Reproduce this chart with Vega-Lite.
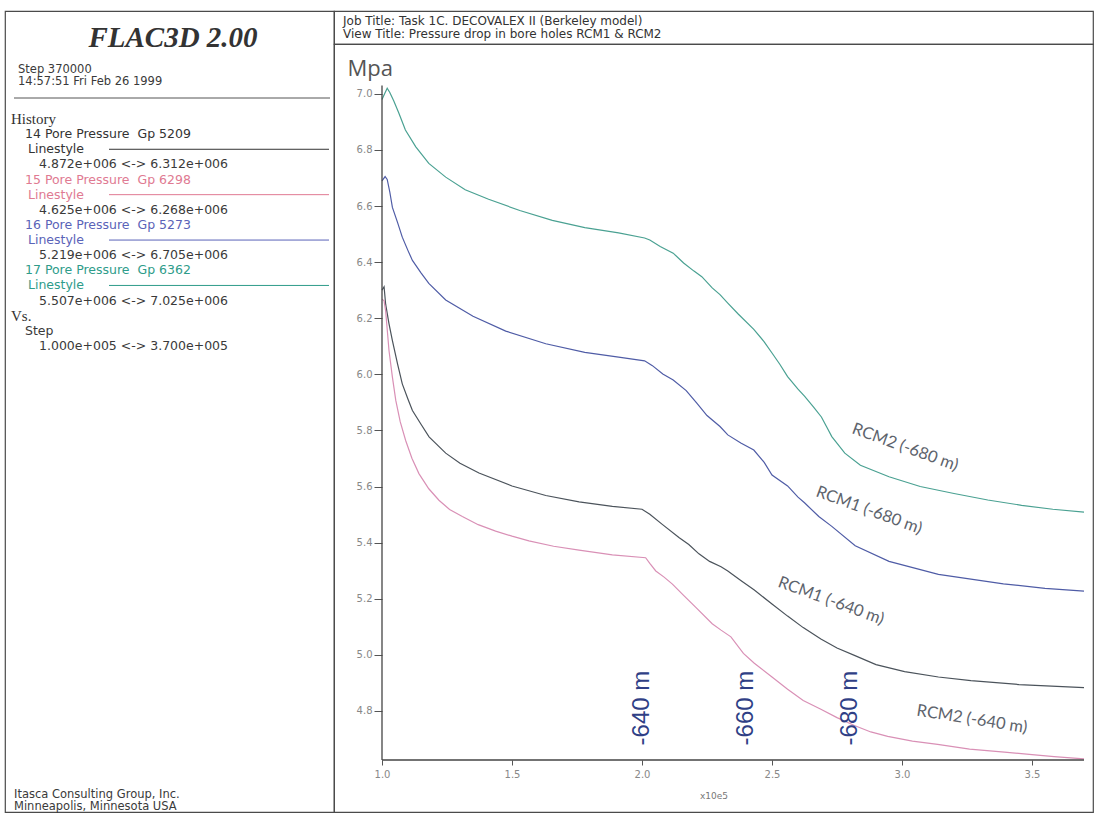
{
  "$schema": "https://vega.github.io/schema/vega-lite/v6.json",
  "background": "white",
  "padding": {"left": 4, "top": 10, "right": 4, "bottom": 2},
  "config": {
    "view": {"stroke": "#4a4a4a", "strokeWidth": 1.2},
    "concat": {"spacing": 0},
    "text": {"font": "DejaVu Sans"}
  },
  "resolve": {"scale": {"color": "independent"}},
  "spacing": 0,
  "bounds": "flush",
  "datasets": {
    "listing": [
      {"line": 0, "kind": "heading", "text": "History", "history": "none"},
      {"line": 1, "kind": "item", "text": "14 Pore Pressure\u00a0 Gp 5209", "history": "14"},
      {"line": 2, "kind": "linestyle", "text": "Linestyle", "history": "14"},
      {"line": 3, "kind": "range", "text": "4.872e+006 <-> 6.312e+006", "history": "none"},
      {"line": 4, "kind": "item", "text": "15 Pore Pressure\u00a0 Gp 6298", "history": "15"},
      {"line": 5, "kind": "linestyle", "text": "Linestyle", "history": "15"},
      {"line": 6, "kind": "range", "text": "4.625e+006 <-> 6.268e+006", "history": "none"},
      {"line": 7, "kind": "item", "text": "16 Pore Pressure\u00a0 Gp 5273", "history": "16"},
      {"line": 8, "kind": "linestyle", "text": "Linestyle", "history": "16"},
      {"line": 9, "kind": "range", "text": "5.219e+006 <-> 6.705e+006", "history": "none"},
      {"line": 10, "kind": "item", "text": "17 Pore Pressure\u00a0 Gp 6362", "history": "17"},
      {"line": 11, "kind": "linestyle", "text": "Linestyle", "history": "17"},
      {"line": 12, "kind": "range", "text": "5.507e+006 <-> 7.025e+006", "history": "none"},
      {"line": 13, "kind": "heading", "text": "Vs.", "history": "none"},
      {"line": 14, "kind": "item", "text": "Step", "history": "none"},
      {"line": 15, "kind": "range", "text": "1.000e+005 <-> 3.700e+005", "history": "none"}
    ],
    "curves": [
      {"history": "17", "step": 1.0, "mpa": 6.98}, {"history": "17", "step": 1.01, "mpa": 7.0}, {"history": "17", "step": 1.02, "mpa": 7.02}, {"history": "17", "step": 1.03, "mpa": 7.005}, {"history": "17", "step": 1.045, "mpa": 6.975}, {"history": "17", "step": 1.065, "mpa": 6.931}, {"history": "17", "step": 1.09, "mpa": 6.871}, {"history": "17", "step": 1.13, "mpa": 6.811}, {"history": "17", "step": 1.18, "mpa": 6.752}, {"history": "17", "step": 1.245, "mpa": 6.703}, {"history": "17", "step": 1.32, "mpa": 6.658}, {"history": "17", "step": 1.41, "mpa": 6.624}, {"history": "17", "step": 1.53, "mpa": 6.584}, {"history": "17", "step": 1.655, "mpa": 6.549}, {"history": "17", "step": 1.78, "mpa": 6.523}, {"history": "17", "step": 1.91, "mpa": 6.504}, {"history": "17", "step": 2.01, "mpa": 6.486}, {"history": "17", "step": 2.03, "mpa": 6.479}, {"history": "17", "step": 2.07, "mpa": 6.456}, {"history": "17", "step": 2.12, "mpa": 6.432}, {"history": "17", "step": 2.16, "mpa": 6.397}, {"history": "17", "step": 2.2, "mpa": 6.368}, {"history": "17", "step": 2.23, "mpa": 6.348}, {"history": "17", "step": 2.27, "mpa": 6.308}, {"history": "17", "step": 2.3, "mpa": 6.284}, {"history": "17", "step": 2.33, "mpa": 6.254}, {"history": "17", "step": 2.37, "mpa": 6.215}, {"history": "17", "step": 2.43, "mpa": 6.16}, {"history": "17", "step": 2.47, "mpa": 6.116}, {"history": "17", "step": 2.5, "mpa": 6.076}, {"history": "17", "step": 2.53, "mpa": 6.036}, {"history": "17", "step": 2.56, "mpa": 5.992}, {"history": "17", "step": 2.6, "mpa": 5.947}, {"history": "17", "step": 2.625, "mpa": 5.922}, {"history": "17", "step": 2.66, "mpa": 5.883}, {"history": "17", "step": 2.69, "mpa": 5.848}, {"history": "17", "step": 2.71, "mpa": 5.813}, {"history": "17", "step": 2.73, "mpa": 5.778}, {"history": "17", "step": 2.78, "mpa": 5.719}, {"history": "17", "step": 2.84, "mpa": 5.676}, {"history": "17", "step": 2.95, "mpa": 5.635}, {"history": "17", "step": 3.07, "mpa": 5.6}, {"history": "17", "step": 3.2, "mpa": 5.575}, {"history": "17", "step": 3.33, "mpa": 5.552}, {"history": "17", "step": 3.46, "mpa": 5.533}, {"history": "17", "step": 3.58, "mpa": 5.519}, {"history": "17", "step": 3.7, "mpa": 5.509},
      {"history": "16", "step": 1.0, "mpa": 6.69}, {"history": "16", "step": 1.012, "mpa": 6.705}, {"history": "16", "step": 1.02, "mpa": 6.695}, {"history": "16", "step": 1.03, "mpa": 6.65}, {"history": "16", "step": 1.04, "mpa": 6.595}, {"history": "16", "step": 1.06, "mpa": 6.541}, {"history": "16", "step": 1.078, "mpa": 6.489}, {"history": "16", "step": 1.1, "mpa": 6.441}, {"history": "16", "step": 1.117, "mpa": 6.406}, {"history": "16", "step": 1.15, "mpa": 6.362}, {"history": "16", "step": 1.18, "mpa": 6.324}, {"history": "16", "step": 1.245, "mpa": 6.265}, {"history": "16", "step": 1.35, "mpa": 6.207}, {"history": "16", "step": 1.476, "mpa": 6.154}, {"history": "16", "step": 1.63, "mpa": 6.109}, {"history": "16", "step": 1.78, "mpa": 6.078}, {"history": "16", "step": 1.91, "mpa": 6.061}, {"history": "16", "step": 2.01, "mpa": 6.048}, {"history": "16", "step": 2.04, "mpa": 6.031}, {"history": "16", "step": 2.08, "mpa": 6.001}, {"history": "16", "step": 2.12, "mpa": 5.98}, {"history": "16", "step": 2.17, "mpa": 5.942}, {"history": "16", "step": 2.21, "mpa": 5.898}, {"history": "16", "step": 2.25, "mpa": 5.853}, {"history": "16", "step": 2.3, "mpa": 5.814}, {"history": "16", "step": 2.33, "mpa": 5.784}, {"history": "16", "step": 2.38, "mpa": 5.755}, {"history": "16", "step": 2.43, "mpa": 5.73}, {"history": "16", "step": 2.47, "mpa": 5.686}, {"history": "16", "step": 2.5, "mpa": 5.641}, {"history": "16", "step": 2.56, "mpa": 5.602}, {"history": "16", "step": 2.6, "mpa": 5.562}, {"history": "16", "step": 2.625, "mpa": 5.542}, {"history": "16", "step": 2.68, "mpa": 5.493}, {"history": "16", "step": 2.73, "mpa": 5.458}, {"history": "16", "step": 2.82, "mpa": 5.389}, {"history": "16", "step": 2.95, "mpa": 5.333}, {"history": "16", "step": 3.14, "mpa": 5.287}, {"history": "16", "step": 3.39, "mpa": 5.253}, {"history": "16", "step": 3.55, "mpa": 5.237}, {"history": "16", "step": 3.7, "mpa": 5.227},
      {"history": "14", "step": 1.0, "mpa": 6.3}, {"history": "14", "step": 1.008, "mpa": 6.312}, {"history": "14", "step": 1.014, "mpa": 6.25}, {"history": "14", "step": 1.027, "mpa": 6.18}, {"history": "14", "step": 1.04, "mpa": 6.12}, {"history": "14", "step": 1.06, "mpa": 6.036}, {"history": "14", "step": 1.078, "mpa": 5.966}, {"history": "14", "step": 1.1, "mpa": 5.911}, {"history": "14", "step": 1.117, "mpa": 5.871}, {"history": "14", "step": 1.15, "mpa": 5.822}, {"history": "14", "step": 1.181, "mpa": 5.777}, {"history": "14", "step": 1.245, "mpa": 5.719}, {"history": "14", "step": 1.3, "mpa": 5.683}, {"history": "14", "step": 1.373, "mpa": 5.648}, {"history": "14", "step": 1.5, "mpa": 5.602}, {"history": "14", "step": 1.63, "mpa": 5.568}, {"history": "14", "step": 1.758, "mpa": 5.545}, {"history": "14", "step": 1.886, "mpa": 5.529}, {"history": "14", "step": 2.0, "mpa": 5.519}, {"history": "14", "step": 2.03, "mpa": 5.501}, {"history": "14", "step": 2.078, "mpa": 5.465}, {"history": "14", "step": 2.142, "mpa": 5.418}, {"history": "14", "step": 2.18, "mpa": 5.393}, {"history": "14", "step": 2.219, "mpa": 5.36}, {"history": "14", "step": 2.26, "mpa": 5.333}, {"history": "14", "step": 2.304, "mpa": 5.314}, {"history": "14", "step": 2.33, "mpa": 5.299}, {"history": "14", "step": 2.38, "mpa": 5.265}, {"history": "14", "step": 2.432, "mpa": 5.231}, {"history": "14", "step": 2.5, "mpa": 5.181}, {"history": "14", "step": 2.56, "mpa": 5.138}, {"history": "14", "step": 2.62, "mpa": 5.097}, {"history": "14", "step": 2.688, "mpa": 5.056}, {"history": "14", "step": 2.75, "mpa": 5.024}, {"history": "14", "step": 2.817, "mpa": 4.998}, {"history": "14", "step": 2.9, "mpa": 4.965}, {"history": "14", "step": 3.01, "mpa": 4.94}, {"history": "14", "step": 3.14, "mpa": 4.921}, {"history": "14", "step": 3.265, "mpa": 4.908}, {"history": "14", "step": 3.45, "mpa": 4.894}, {"history": "14", "step": 3.7, "mpa": 4.883},
      {"history": "15", "step": 1.0, "mpa": 6.268}, {"history": "15", "step": 1.008, "mpa": 6.262}, {"history": "15", "step": 1.014, "mpa": 6.226}, {"history": "15", "step": 1.027, "mpa": 6.084}, {"history": "15", "step": 1.04, "mpa": 5.99}, {"history": "15", "step": 1.053, "mpa": 5.907}, {"history": "15", "step": 1.07, "mpa": 5.831}, {"history": "15", "step": 1.091, "mpa": 5.764}, {"history": "15", "step": 1.115, "mpa": 5.701}, {"history": "15", "step": 1.142, "mpa": 5.646}, {"history": "15", "step": 1.18, "mpa": 5.592}, {"history": "15", "step": 1.219, "mpa": 5.551}, {"history": "15", "step": 1.26, "mpa": 5.518}, {"history": "15", "step": 1.309, "mpa": 5.493}, {"history": "15", "step": 1.37, "mpa": 5.464}, {"history": "15", "step": 1.437, "mpa": 5.441}, {"history": "15", "step": 1.5, "mpa": 5.423}, {"history": "15", "step": 1.565, "mpa": 5.406}, {"history": "15", "step": 1.66, "mpa": 5.387}, {"history": "15", "step": 1.758, "mpa": 5.373}, {"history": "15", "step": 1.886, "mpa": 5.356}, {"history": "15", "step": 2.014, "mpa": 5.346}, {"history": "15", "step": 2.03, "mpa": 5.326}, {"history": "15", "step": 2.053, "mpa": 5.299}, {"history": "15", "step": 2.085, "mpa": 5.277}, {"history": "15", "step": 2.117, "mpa": 5.252}, {"history": "15", "step": 2.16, "mpa": 5.212}, {"history": "15", "step": 2.206, "mpa": 5.17}, {"history": "15", "step": 2.27, "mpa": 5.111}, {"history": "15", "step": 2.304, "mpa": 5.088}, {"history": "15", "step": 2.342, "mpa": 5.064}, {"history": "15", "step": 2.39, "mpa": 5.005}, {"history": "15", "step": 2.432, "mpa": 4.97}, {"history": "15", "step": 2.5, "mpa": 4.921}, {"history": "15", "step": 2.56, "mpa": 4.877}, {"history": "15", "step": 2.62, "mpa": 4.837}, {"history": "15", "step": 2.688, "mpa": 4.806}, {"history": "15", "step": 2.75, "mpa": 4.776}, {"history": "15", "step": 2.817, "mpa": 4.748}, {"history": "15", "step": 2.88, "mpa": 4.725}, {"history": "15", "step": 2.945, "mpa": 4.709}, {"history": "15", "step": 3.04, "mpa": 4.692}, {"history": "15", "step": 3.137, "mpa": 4.681}, {"history": "15", "step": 3.26, "mpa": 4.664}, {"history": "15", "step": 3.394, "mpa": 4.653}, {"history": "15", "step": 3.5, "mpa": 4.644}, {"history": "15", "step": 3.585, "mpa": 4.637}, {"history": "15", "step": 3.7, "mpa": 4.629}
    ],
    "depths": [
      {"label": "-640 m", "step": 2.0},
      {"label": "-660 m", "step": 2.4},
      {"label": "-680 m", "step": 2.8}
    ],
    "curveLabels": [
      {"label": "RCM2 (-680 m)", "step": 3.012, "mpa": 5.74, "tilt": "steep"},
      {"label": "RCM1 (-680 m)", "step": 2.873, "mpa": 5.515, "tilt": "steep"},
      {"label": "RCM1 (-640 m)", "step": 2.727, "mpa": 5.192, "tilt": "steep"},
      {"label": "RCM2 (-640 m)", "step": 3.269, "mpa": 4.77, "tilt": "flat"}
    ]
  },
  "hconcat": [
    {
      "width": 329,
      "height": 801,
      "data": {"name": "listing"},
      "layer": [
        {
          "data": {"values": [{"text": "FLAC3D 2.00"}]},
          "mark": {"type": "text", "font": "Liberation Serif", "fontStyle": "italic", "fontWeight": "bold", "fontSize": 29, "align": "center", "baseline": "middle", "color": "#333333"},
          "encoding": {
            "x": {"datum": 168, "type": "quantitative", "scale": {"domain": [0, 329], "nice": false, "zero": false}, "axis": null},
            "y": {"datum": -5.353, "type": "quantitative", "scale": {"domain": [-7.138, 45.8], "reverse": true, "nice": false, "zero": false}, "axis": null},
            "text": {"field": "text"}
          }
        },
        {
          "data": {"values": [{"text": ["Step 370000", "14:57:51 Fri Feb 26 1999"]}]},
          "mark": {"type": "text", "fontSize": 11.5, "lineHeight": 12, "align": "left", "baseline": "top", "color": "#3a3a3a"},
          "encoding": {
            "x": {"datum": 13, "type": "quantitative", "axis": null},
            "y": {"datum": -3.655, "type": "quantitative", "axis": null},
            "text": {"field": "text"}
          }
        },
        {
          "data": {"values": [{}]},
          "mark": {"type": "rule", "color": "#555555", "strokeWidth": 1},
          "encoding": {
            "x": {"datum": 9, "type": "quantitative", "axis": null},
            "x2": {"datum": 325},
            "y": {"datum": -1.388, "type": "quantitative", "axis": null}
          }
        },
        {
          "transform": [{"filter": "datum.kind === 'heading'"}],
          "mark": {"type": "text", "font": "Liberation Serif", "fontSize": 15, "align": "left", "baseline": "middle", "color": "#333333"},
          "encoding": {
            "x": {"datum": 6, "type": "quantitative", "axis": null},
            "y": {"field": "line", "type": "quantitative", "axis": null},
            "text": {"field": "text"}
          }
        },
        {
          "transform": [{"filter": "datum.kind === 'item'"}],
          "mark": {"type": "text", "fontSize": 12.5, "align": "left", "baseline": "middle"},
          "encoding": {
            "x": {"datum": 20, "type": "quantitative", "axis": null},
            "y": {"field": "line", "type": "quantitative", "axis": null},
            "text": {"field": "text"},
            "color": {"field": "history", "type": "nominal", "scale": {"domain": ["14", "15", "16", "17", "none"], "range": ["#333333", "#e07a92", "#5a63b8", "#2e9c8a", "#3a3a3a"]}, "legend": null}
          }
        },
        {
          "transform": [{"filter": "datum.kind === 'linestyle'"}],
          "mark": {"type": "text", "fontSize": 12.5, "align": "left", "baseline": "middle"},
          "encoding": {
            "x": {"datum": 23, "type": "quantitative", "axis": null},
            "y": {"field": "line", "type": "quantitative", "axis": null},
            "text": {"field": "text"},
            "color": {"field": "history", "type": "nominal", "legend": null}
          }
        },
        {
          "transform": [{"filter": "datum.kind === 'linestyle'"}],
          "mark": {"type": "rule", "strokeWidth": 1},
          "encoding": {
            "x": {"datum": 104, "type": "quantitative", "axis": null},
            "x2": {"datum": 324},
            "y": {"field": "line", "type": "quantitative", "axis": null},
            "color": {"field": "history", "type": "nominal", "legend": null}
          }
        },
        {
          "transform": [{"filter": "datum.kind === 'range'"}],
          "mark": {"type": "text", "fontSize": 12.5, "align": "left", "baseline": "middle", "color": "#3a3a3a"},
          "encoding": {
            "x": {"datum": 34, "type": "quantitative", "axis": null},
            "y": {"field": "line", "type": "quantitative", "axis": null},
            "text": {"field": "text"}
          }
        },
        {
          "data": {"values": [{"text": ["Itasca Consulting Group, Inc.", "Minneapolis, Minnesota USA"]}]},
          "mark": {"type": "text", "fontSize": 11.5, "lineHeight": 12, "align": "left", "baseline": "top", "color": "#3a3a3a"},
          "encoding": {
            "x": {"datum": 9, "type": "quantitative", "axis": null},
            "y": {"datum": 44.3, "type": "quantitative", "axis": null},
            "text": {"field": "text"}
          }
        }
      ]
    },
    {
      "spacing": 0,
      "bounds": "flush",
      "vconcat": [
        {
          "width": 759,
          "height": 33,
          "data": {"values": [
            {"row": 1, "text": "Job Title: Task 1C. DECOVALEX II (Berkeley model)"},
            {"row": 2, "text": "View Title: Pressure drop in bore holes RCM1 & RCM2"}
          ]},
          "mark": {"type": "text", "fontSize": 12, "align": "left", "baseline": "middle", "color": "#333333"},
          "encoding": {
            "x": {"datum": 9, "type": "quantitative", "scale": {"domain": [0, 759], "nice": false, "zero": false}, "axis": null},
            "y": {"field": "row", "type": "quantitative", "scale": {"domain": [0.2963, 2.7407], "reverse": true, "nice": false, "zero": false}, "axis": null},
            "text": {"field": "text"}
          }
        },
        {
          "width": 759,
          "height": 768,
          "layer": [
            {
              "data": {"name": "curves"},
              "mark": {"type": "line", "strokeWidth": 1.2},
              "encoding": {
                "x": {
                  "field": "step", "type": "quantitative",
                  "scale": {"domain": [0.81538, 3.73462], "nice": false, "zero": false},
                  "axis": {"values": [1.0, 1.5, 2.0, 2.5, 3.0, 3.5], "format": ".1f", "offset": -52, "domain": false, "grid": false, "tickSize": 5, "tickColor": "#555555", "labelColor": "#888888", "labelFontSize": 10, "labelFont": "DejaVu Sans", "labelPadding": 4, "labelFlush": false, "title": "x10e5", "titleFont": "DejaVu Sans", "titleFontSize": 9, "titleFontWeight": "normal", "titleColor": "#777777", "titlePadding": 12}
                },
                "y": {
                  "field": "mpa", "type": "quantitative",
                  "scale": {"domain": [4.43962, 7.17763], "nice": false, "zero": false},
                  "axis": {"values": [4.8, 5.0, 5.2, 5.4, 5.6, 5.8, 6.0, 6.2, 6.4, 6.6, 6.8, 7.0], "format": ".1f", "offset": -48, "domain": false, "grid": false, "tickSize": 8, "tickColor": "#555555", "labelColor": "#888888", "labelFontSize": 10, "labelFont": "DejaVu Sans", "labelPadding": 2, "labelFlush": false, "title": null}
                },
                "color": {"field": "history", "type": "nominal", "scale": {"domain": ["14", "15", "16", "17"], "range": ["#4b535b", "#d990b6", "#4f5ca6", "#4aa192"]}, "legend": null}
              }
            },
            {
              "data": {"values": [{}]},
              "mark": {"type": "rule", "color": "#444444", "strokeWidth": 1.3},
              "encoding": {
                "x": {"datum": 1.0, "type": "quantitative"},
                "y": {"datum": 4.625, "type": "quantitative"},
                "y2": {"datum": 7.03}
              }
            },
            {
              "data": {"values": [{}]},
              "mark": {"type": "rule", "color": "#444444", "strokeWidth": 1.3},
              "encoding": {
                "x": {"datum": 1.0, "type": "quantitative"},
                "x2": {"datum": 3.7},
                "y": {"datum": 4.625, "type": "quantitative"}
              }
            },
            {
              "data": {"values": [{"unit": "Mpa"}]},
              "mark": {"type": "text", "font": "Open Sans", "fontSize": 22, "align": "center", "baseline": "middle", "color": "#555555"},
              "encoding": {
                "x": {"datum": 0.955, "type": "quantitative"},
                "y": {"datum": 7.09, "type": "quantitative"},
                "text": {"field": "unit"}
              }
            },
            {
              "data": {"name": "depths"},
              "mark": {"type": "text", "font": "Liberation Sans", "fontSize": 24, "angle": 270, "align": "center", "baseline": "middle", "color": "#2f3f86"},
              "encoding": {
                "x": {"field": "step", "type": "quantitative"},
                "y": {"datum": 4.81, "type": "quantitative"},
                "text": {"field": "label"}
              }
            },
            {
              "data": {"name": "curveLabels"},
              "transform": [{"filter": "datum.tilt === 'steep'"}],
              "mark": {"type": "text", "font": "Lato", "fontSize": 16.5, "angle": 20, "align": "center", "baseline": "middle", "color": "#5d636c"},
              "encoding": {
                "x": {"field": "step", "type": "quantitative"},
                "y": {"field": "mpa", "type": "quantitative"},
                "text": {"field": "label"}
              }
            },
            {
              "data": {"name": "curveLabels"},
              "transform": [{"filter": "datum.tilt === 'flat'"}],
              "mark": {"type": "text", "font": "Lato", "fontSize": 16.5, "angle": 9, "align": "center", "baseline": "middle", "color": "#5d636c"},
              "encoding": {
                "x": {"field": "step", "type": "quantitative"},
                "y": {"field": "mpa", "type": "quantitative"},
                "text": {"field": "label"}
              }
            }
          ]
        }
      ]
    }
  ]
}
